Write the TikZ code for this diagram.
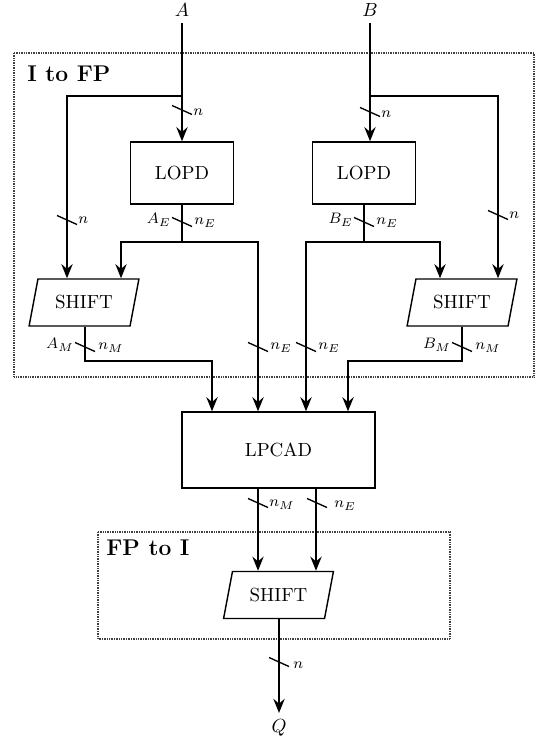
\documentclass[tikz,border=0pt]{standalone}
\usetikzlibrary{shapes.geometric,arrows.meta}
\begin{document}
\begin{tikzpicture}[x=0.527pt,y=-0.527pt,
  wire/.style={line width=0.7pt},
  arr/.style={wire,-{Stealth[length=7.5pt,width=6pt,inset=2.6pt]}},
  blk/.style={draw,line width=0.75pt,minimum width=54.3pt,minimum height=32.7pt,inner sep=0pt},
  shft/.style={draw,line width=0.75pt,trapezium,trapezium left angle=68,trapezium right angle=112,
     trapezium stretches=true,minimum width=58pt,minimum height=24.8pt,inner sep=0pt},
  frame/.style={dash pattern=on 0.45pt off 0.45pt,line width=0.6pt,black!75},
  tk/.style={line width=0.7pt},
  lblr/.style={anchor=west,inner sep=0.5pt,font=\footnotesize},
  lbll/.style={anchor=east,inner sep=0.5pt,font=\footnotesize},
  ttl/.style={anchor=west,font=\large\bfseries,inner sep=0pt}]
\useasboundingbox (0,0) rectangle (541,743);
% frames
\draw[frame] (14,53) rectangle (534,377);
\draw[frame] (98,532) rectangle (450,639);
\node[ttl] (t1) at (27,74) {I to FP};
\node[ttl] (t2) at (106,548) {FP to I};
% nodes
\node (A) at (182,10) {$A$};
\node (B) at (370,10) {$B$};
\node[blk] (LA) at (182,173) {LOPD};
\node[blk] (LB) at (364,173) {LOPD};
\node[shft] (SA) at (84,302.5) {SHIFT};
\node[shft] (SB) at (462,302.5) {SHIFT};
\node[draw,line width=0.75pt,minimum width=101.7pt,minimum height=40pt,inner sep=0pt] (LP) at (278.5,450) {LPCAD};
\node[shft] (SC) at (278.5,595) {SHIFT};
\node (Q) at (279,728) {$Q$};
% branch coordinates
\coordinate (bA) at (182,96);
\coordinate (bB) at (370,96);
\coordinate (eA) at (182,242);
\coordinate (eB) at (364,242);
% wires
\draw[arr] (A.south) -- (182,0 |- LA.north);
\draw[wire] (bA) -| (67,200);
\draw[arr] (67,200) -- (67,0 |- SA.north);
\draw[arr] (B.south) -- (370,0 |- LB.north);
\draw[wire] (bB) -| (498,200);
\draw[arr] (498,200) -- (498,0 |- SB.north);
\draw[wire] (LA.south) -- (eA);
\draw[arr] (eA) -| (121,0 |- SA.north);
\draw[arr] (eA) -| (258,0 |- LP.north);
\draw[wire] (364,0 |- LB.south) -- (eB);
\draw[arr] (eB) -| (306,0 |- LP.north);
\draw[arr] (eB) -| (440,0 |- SB.north);
\draw[arr] (85,0 |- SA.south) |- (150,361) -| (212,0 |- LP.north);
\draw[arr] (462,0 |- SB.south) |- (400,361) -| (348,0 |- LP.north);
\draw[arr] (258,0 |- LP.south) -- (258,0 |- SC.north);
\draw[arr] (316,0 |- LP.south) -- (316,0 |- SC.north);
\draw[arr] (279,0 |- SC.south) -- (Q.north);
% ticks
\foreach \x/\y in {182/110,370/112,67/220,498/215,182/222,364/222,85/347,258/347,306/347,462/347,258/503,317/503,279/662}
  \draw[tk] (\x-10,\y-4.5) -- (\x+10,\y+4.5);
% tick labels
\node[lblr] (l1) at (192,112) {$n$};
\node[lblr] (l2) at (380,114) {$n$};
\node[lblr] (l3) at (77,220) {$n$};
\node[lblr] (l4) at (508,215) {$n$};
\node[lbll] (l5) at (172,220) {$A_E$};
\node[lblr] (l6) at (193,223) {$n_E$};
\node[lbll] (l7) at (354,220) {$B_E$};
\node[lblr] (l8) at (375,223) {$n_E$};
\node[lbll] (l9) at (75,345) {$A_M$};
\node[lblr] (l10) at (97,348) {$n_M$};
\node[lblr] (l11) at (269,348) {$n_E$};
\node[lblr] (l12) at (317,348) {$n_E$};
\node[lbll] (l13) at (452,345) {$B_M$};
\node[lblr] (l14) at (474,348) {$n_M$};
\node[lblr] (l15) at (268,505) {$n_M$};
\node[lblr] (l16) at (333,506) {$n_E$};
\node[lblr] (l17) at (292,665) {$n$};
\end{tikzpicture}
\end{document}
